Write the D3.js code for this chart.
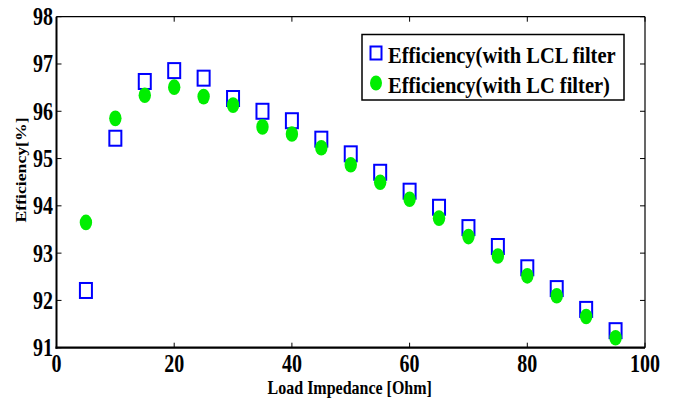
<!DOCTYPE html>
<html>
<head>
<meta charset="utf-8">
<script src="https://cdn.jsdelivr.net/npm/d3@7"></script>
<style>
  html, body { margin: 0; padding: 0; background: #fff; }
  svg { display: block; }
  text { font-family: "Liberation Serif", "Times New Roman", serif; font-weight: bold; fill: #000; }
</style>
</head>
<body>
<svg id="chart" width="673" height="401"></svg>
<script>
// Load impedance sweep (Ohm)
const loadOhm = [5, 10, 15, 20, 25, 30, 35, 40, 45, 50, 55, 60, 65, 70, 75, 80, 85, 90, 95];
// Efficiency with LCL filter (%)
const effLCL = [92.21, 95.43, 96.63, 96.86, 96.70, 96.27, 96.00, 95.80, 95.41, 95.10, 94.71, 94.31, 93.97, 93.54, 93.14, 92.69, 92.25, 91.81, 91.36];
// Efficiency with LC filter (%)
const effLC = [93.65, 95.85, 96.34, 96.51, 96.31, 96.13, 95.67, 95.52, 95.23, 94.87, 94.50, 94.14, 93.74, 93.35, 92.94, 92.52, 92.10, 91.66, 91.21];
const xTicks = [0, 20, 40, 60, 80, 100];
const yTicks = [91, 92, 93, 94, 95, 96, 97, 98];
const legendLabels = ["Efficiency(with LCL filter", "Efficiency(with LC filter)"];

const svg = d3.select("#chart");
const L = 56.5, R = 645, T = 16.7, B = 347.7;
const stretch = 1.25; // glyphs are drawn taller than wide

const x = d3.scaleLinear().domain([0, 100]).range([L, R]);
const y = d3.scaleLinear().domain([91, 98]).range([B, T]);

// text helper: tall, narrow serif glyphs
function label(g, tx, ty, str, size, anchor, sy) {
  return g.append("text")
    .attr("transform", `translate(${tx},${ty}) scale(1,${sy || stretch})`)
    .attr("text-anchor", anchor || "middle")
    .style("font-size", size + "px")
    .text(str);
}

// Inward ticks on all four sides
const tickLen = 5;
const axes = svg.append("g");
xTicks.forEach(v => {
  axes.append("line").attr("x1", x(v)).attr("x2", x(v)).attr("y1", B).attr("y2", B - tickLen)
    .attr("stroke", "#000").attr("stroke-width", 1);
  axes.append("line").attr("x1", x(v)).attr("x2", x(v)).attr("y1", T).attr("y2", T + tickLen)
    .attr("stroke", "#000").attr("stroke-width", 1);
  label(axes, x(v), 372, String(v), 20, "middle");
});
yTicks.forEach(v => {
  axes.append("line").attr("x1", L).attr("x2", L + tickLen).attr("y1", y(v)).attr("y2", y(v))
    .attr("stroke", "#000").attr("stroke-width", 1);
  axes.append("line").attr("x1", R).attr("x2", R - tickLen).attr("y1", y(v)).attr("y2", y(v))
    .attr("stroke", "#000").attr("stroke-width", 1);
  label(axes, 53, y(v) + 8.5, String(v), 20, "end");
});

// Frame
axes.append("line").attr("x1", L).attr("x2", R).attr("y1", T).attr("y2", T).attr("stroke", "#000").attr("stroke-width", 1.2);
axes.append("line").attr("x1", R).attr("x2", R).attr("y1", T).attr("y2", B).attr("stroke", "#000").attr("stroke-width", 1.2);
axes.append("line").attr("x1", L).attr("x2", L).attr("y1", T).attr("y2", B + 1).attr("stroke", "#000").attr("stroke-width", 2);
axes.append("line").attr("x1", L - 1).attr("x2", R).attr("y1", B).attr("y2", B).attr("stroke", "#000").attr("stroke-width", 2.2);

// Axis titles
label(svg, (L + R) / 2 - 1, 394, "Load Impedance [Ohm]", 16, "middle", 1.2);
svg.append("text")
  .attr("transform", `translate(25.5,170) rotate(-90) scale(1.18,1)`)
  .attr("text-anchor", "middle")
  .style("font-size", "15px")
  .text("Efficiency[%]");

// Markers
const sqW = 12, sqH = 15;
const markers = svg.append("g");
markers.selectAll("rect.lcl").data(loadOhm).join("rect")
  .attr("class", "lcl")
  .attr("x", (d) => x(d) - sqW / 2)
  .attr("y", (d, i) => y(effLCL[i]) - sqH / 2)
  .attr("width", sqW).attr("height", sqH)
  .attr("fill", "none").attr("stroke", "#0000ff").attr("stroke-width", 2);
markers.selectAll("ellipse.lc").data(loadOhm).join("ellipse")
  .attr("class", "lc")
  .attr("cx", (d) => x(d))
  .attr("cy", (d, i) => y(effLC[i]))
  .attr("rx", 6.2).attr("ry", 7.8)
  .attr("fill", "#00ee00");

// Legend
const lg = svg.append("g");
lg.append("rect").attr("x", 362).attr("y", 34.5).attr("width", 262).attr("height", 65.5)
  .attr("fill", "#fff").attr("stroke", "#000").attr("stroke-width", 1.5);
lg.append("rect").attr("x", 376 - 5.5).attr("y", 53 - 6.5).attr("width", 11).attr("height", 13)
  .attr("fill", "none").attr("stroke", "#0000ff").attr("stroke-width", 2);
lg.append("ellipse").attr("cx", 376).attr("cy", 83).attr("rx", 6).attr("ry", 7.5).attr("fill", "#00ee00");
label(lg, 388, 53 + 9.5, legendLabels[0], 20.5, "start", 1.16);
label(lg, 388, 83 + 9.5, legendLabels[1], 20.5, "start", 1.16);
</script>
</body>
</html>
